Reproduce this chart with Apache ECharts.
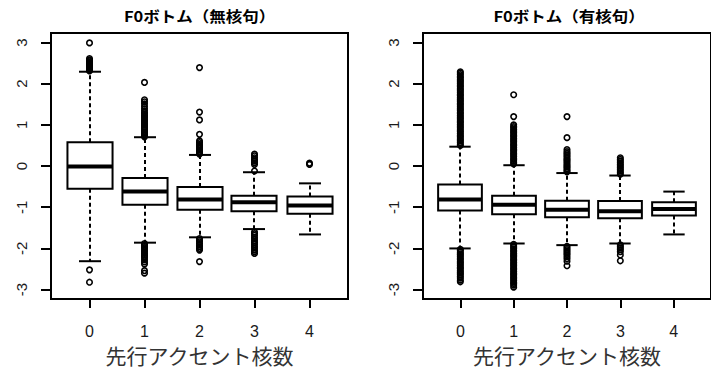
<!DOCTYPE html>
<html>
<head>
<meta charset="utf-8">
<script src="https://cdn.jsdelivr.net/npm/echarts@6/dist/echarts.min.js"></script>
<style>html,body{margin:0;padding:0;background:#fff;}#c{width:711px;height:370px;}</style>
</head>
<body>
<div id="c"></div>
<script>
// ---- data ----
const categories = ['0', '1', '2', '3', '4'];
const xTicks = [0, 1, 2, 3, 4];
const yTicks = [-3, -2, -1, 0, 1, 2, 3];
const titles = ['F0ボトム（無核句）', 'F0ボトム（有核句）'];
const xName = '先行アクセント核数';

// [lower whisker, Q1, median, Q3, upper whisker]
const statsMukaku = [
  [-2.31, -0.55, -0.01, 0.58, 2.29],
  [-1.86, -0.94, -0.62, -0.29, 0.70],
  [-1.73, -1.06, -0.81, -0.51, 0.27],
  [-1.53, -1.10, -0.88, -0.72, -0.15],
  [-1.66, -1.16, -0.96, -0.74, -0.42]
];
const statsYukaku = [
  [-2.00, -1.08, -0.81, -0.45, 0.47],
  [-1.88, -1.17, -0.94, -0.72, 0.02],
  [-1.92, -1.24, -1.06, -0.84, -0.17],
  [-1.88, -1.27, -1.10, -0.85, -0.23],
  [-1.66, -1.20, -1.04, -0.88, -0.62]
];

// outliers per group
const outMukaku = [
  [2.31, 2.34, 2.36, 2.39, 2.41, 2.44, 2.46, 2.49, 2.51, 2.53, 2.56, 2.58, 2.61, 2.99, -2.52, -2.82],
  [0.71, 0.74, 0.77, 0.8, 0.83, 0.87, 0.9, 0.92, 0.95, 0.99, 1.02, 1.04, 1.08, 1.11, 1.13, 1.17, 1.2, 1.23, 1.27, 1.3, 1.34, 1.39, 1.45, 1.51, 1.56, 1.61, 2.03,
   -1.88, -1.91, -1.95, -1.98, -2.01, -2.05, -2.08, -2.12, -2.16, -2.19, -2.23, -2.28, -2.33, -2.38, -2.54, -2.6],
  [0.29, 0.32, 0.36, 0.39, 0.43, 0.46, 0.5, 0.53, 0.57, 0.61, 0.77, 1.12, 1.31, 2.39,
   -1.76, -1.8, -1.84, -1.88, -1.92, -1.96, -2.0, -2.04, -2.32],
  [-0.12, 0.04, 0.08, 0.12, 0.16, 0.2, 0.25, 0.29,
   -1.6, -1.64, -1.68, -1.73, -1.77, -1.82, -1.86, -1.9, -1.95, -1.99, -2.04, -2.08, -2.12],
  [0.04, 0.07]
];
const outYukaku = [
  [0.5, 0.53, 0.57, 0.61, 0.64, 0.68, 0.72, 0.75, 0.79, 0.83, 0.86, 0.9, 0.94, 0.97, 1.01, 1.05, 1.08, 1.12, 1.16, 1.19, 1.23, 1.27, 1.3, 1.34, 1.38, 1.41, 1.45, 1.49, 1.52, 1.56, 1.6, 1.63, 1.67, 1.71, 1.74, 1.78, 1.82, 1.85, 1.89, 1.93, 1.96, 2.0, 2.04, 2.07, 2.11, 2.15, 2.18, 2.22, 2.26, 2.29,
   -2.02, -2.05, -2.09, -2.13, -2.16, -2.2, -2.24, -2.27, -2.31, -2.35, -2.38, -2.42, -2.46, -2.49, -2.53, -2.57, -2.6, -2.64, -2.68, -2.72, -2.77, -2.81],
  [0.05, 0.08, 0.12, 0.16, 0.19, 0.23, 0.27, 0.3, 0.34, 0.38, 0.41, 0.45, 0.49, 0.52, 0.56, 0.6, 0.63, 0.67, 0.71, 0.74, 0.78, 0.82, 0.85, 0.89, 0.93, 0.96, 1.0, 1.2, 1.73,
   -1.9, -1.94, -1.97, -2.01, -2.05, -2.08, -2.12, -2.16, -2.19, -2.23, -2.27, -2.3, -2.34, -2.38, -2.41, -2.45, -2.49, -2.52, -2.56, -2.6, -2.63, -2.67, -2.71, -2.74, -2.78, -2.82, -2.85, -2.89, -2.94],
  [-0.14, -0.11, -0.07, -0.03, 0.0, 0.04, 0.08, 0.12, 0.15, 0.19, 0.23, 0.27, 0.31, 0.35, 0.4, 0.69, 1.2,
   -1.95, -1.99, -2.03, -2.07, -2.11, -2.15, -2.2, -2.25, -2.31, -2.42],
  [-0.2, -0.16, -0.12, -0.08, -0.04, 0.0, 0.04, 0.08, 0.12, 0.16, 0.2,
   -1.91, -1.95, -1.99, -2.03, -2.08, -2.16, -2.3],
  []
];

// ---- chart ----
const chart = echarts.init(document.getElementById('c'), null, {renderer: 'svg'});

function renderBox(params, api) {
  const x = api.value(0);
  const lo = api.value(1), q1 = api.value(2), med = api.value(3), q3 = api.value(4), hi = api.value(5);
  const unit = api.size([1, 0])[0];
  const hw = unit * 0.41, cw = unit * 0.2;
  const pLo = api.coord([x, lo]), pQ1 = api.coord([x, q1]), pMed = api.coord([x, med]);
  const pQ3 = api.coord([x, q3]), pHi = api.coord([x, hi]);
  const cx = Math.round(pMed[0]);
  const solid = {stroke: '#000', lineWidth: 2, fill: null};
  const dashed = {stroke: '#000', lineWidth: 2, lineDash: [4, 3], fill: null};
  return {
    type: 'group',
    children: [
      {type: 'line', shape: {x1: cx, y1: pQ3[1], x2: cx, y2: pHi[1]}, style: dashed},
      {type: 'line', shape: {x1: cx, y1: pQ1[1], x2: cx, y2: pLo[1]}, style: dashed},
      {type: 'line', shape: {x1: cx - cw, y1: pHi[1], x2: cx + cw, y2: pHi[1]}, style: solid},
      {type: 'line', shape: {x1: cx - cw, y1: pLo[1], x2: cx + cw, y2: pLo[1]}, style: solid},
      {type: 'rect', shape: {x: cx - hw, y: pQ3[1], width: 2 * hw, height: pQ1[1] - pQ3[1]},
       style: {fill: '#fff', stroke: '#000', lineWidth: 2}},
      {type: 'line', shape: {x1: cx - hw, y1: pMed[1], x2: cx + hw, y2: pMed[1]},
       style: {stroke: '#000', lineWidth: 4}}
    ]
  };
}

const gridLefts = [51, 423];
const grids = gridLefts.map(l => ({
  left: l, top: 33, width: 297, height: 268,
  show: true, borderColor: '#000', borderWidth: 2, backgroundColor: 'transparent'
}));

const xAxes = [0, 1].map(i => ({
  gridIndex: i, type: 'value', min: -0.7, max: 4.7,
  splitLine: {show: false},
  axisLine: {show: false, onZero: false},
  axisTick: {show: true, customValues: xTicks, length: 9, lineStyle: {color: '#000', width: 2}},
  axisLabel: {
    customValues: xTicks, formatter: v => categories[Math.round(v)],
    margin: 24, fontSize: 16, color: '#1a1a1a', fontFamily: 'Liberation Sans'
  },
  name: xName, nameLocation: 'middle', nameGap: 43,
  nameTextStyle: {fontSize: 21, color: '#333', fontFamily: 'Noto Sans CJK JP', fontWeight: 'normal'}
}));

const yAxes = [0, 1].map(i => ({
  gridIndex: i, type: 'value', min: -3.23, max: 3.23,
  splitLine: {show: false},
  axisLine: {show: false, onZero: false},
  axisTick: {show: true, customValues: yTicks, length: 10, lineStyle: {color: '#000', width: 2}},
  axisLabel: {
    customValues: yTicks, formatter: v => String(v), rotate: 90,
    margin: 22, fontSize: 15, color: '#1a1a1a', fontFamily: 'Liberation Sans'
  }
}));

function outlierPoints(groups) {
  const pts = [];
  groups.forEach((g, i) => g.forEach(v => pts.push([xTicks[i], v])));
  return pts;
}

const panels = [
  {stats: statsMukaku, outs: outMukaku},
  {stats: statsYukaku, outs: outYukaku}
];
const series = [];
panels.forEach((p, i) => {
  series.push({
    type: 'custom', xAxisIndex: i, yAxisIndex: i,
    renderItem: renderBox, encode: {x: 0, y: [1, 2, 3, 4, 5]},
    data: p.stats.map((s, k) => [xTicks[k]].concat(s)),
    silent: true, z: 2
  });
  series.push({
    type: 'scatter', xAxisIndex: i, yAxisIndex: i,
    data: outlierPoints(p.outs),
    symbol: 'circle', symbolSize: 5.5,
    itemStyle: {color: 'rgba(0,0,0,0)', borderColor: '#000', borderWidth: 1.6, opacity: 1},
    silent: true, z: 3, animation: false
  });
});

chart.setOption({
  animation: false,
  backgroundColor: '#fff',
  grid: grids,
  xAxis: xAxes,
  yAxis: yAxes,
  series: series,
  graphic: [
    {type: 'text', x: 199.5, y: 16, scaleX: 1.1,
     style: {text: titles[0], font: 'bold 15px "Noto Sans CJK JP"', fill: '#000',
             align: 'center', verticalAlign: 'middle', textAlign: 'center', textVerticalAlign: 'middle'}},
    {type: 'text', x: 569, y: 16, scaleX: 1.1,
     style: {text: titles[1], font: 'bold 15px "Noto Sans CJK JP"', fill: '#000',
             align: 'center', verticalAlign: 'middle', textAlign: 'center', textVerticalAlign: 'middle'}}
  ]
});
</script>
</body>
</html>
